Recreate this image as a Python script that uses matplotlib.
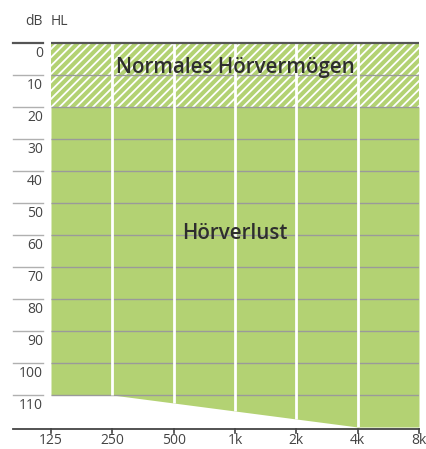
import matplotlib.pyplot as plt
import numpy as np

plt.rcParams['font.family'] = ['Open Sans', 'DejaVu Sans']
plt.rcParams['hatch.linewidth'] = 1.3

freq_labels = ['125', '250', '500', '1k', '2k', '4k', '8k']
octave = np.arange(len(freq_labels))
# lower edge of the green area (dB HL) at each frequency
loss_limit = [110, 110, 112.5, 115, 117.5, 120, 120]
db_levels = list(range(0, 120, 10))
normal_top, normal_bottom = 0, 20

green = '#b3d273'
dark = '#2e2e2e'

fig = plt.figure(figsize=(4.26, 4.49), dpi=100)
ax = fig.add_axes([51 / 426, 1 - 427 / 449, 368 / 426, 384 / 449])
ax.set_xlim(octave[0], octave[-1])
ax.set_ylim(120, 0)
ax.axis('off')

# hearing loss area and normal hearing band
ax.fill_between(octave, normal_bottom, loss_limit, color=green, lw=0, zorder=1)
ax.fill_between([octave[0], octave[-1]], normal_top, normal_bottom,
                facecolor=green, edgecolor='white', hatch='////', lw=0, zorder=1)

# horizontal grid
ax.hlines(db_levels[1:], octave[0], octave[-1], color='#9a9a9a', lw=1, zorder=2)
ax.hlines(0, octave[0], octave[-1], color='#555555', lw=1.6, zorder=3, clip_on=False)

# white frequency lines inside the green
for x, lim in zip(octave[1:-1], loss_limit[1:-1]):
    ax.vlines(x, 0, lim, color='white', lw=2, zorder=2.5)

# left tick lines and labels
ytr = ax.get_yaxis_transform()
for v in db_levels:
    c = '#555555' if v == 0 else '#b0b0b0'
    ax.plot([-0.103, -0.022], [v, v], color=c, lw=1.6 if v == 0 else 1,
            transform=ytr, clip_on=False)
    ax.text(-0.022, v + 3.2, str(v), transform=ytr, ha='right', va='center',
            fontsize=10, color='#444444')

ax.text(-0.022, -6.6, 'dB', transform=ytr, ha='right', va='center',
        fontsize=10, color='#444444')
ax.text(0.0, -6.6, 'HL', transform=ytr, ha='left', va='center',
        fontsize=10, color='#444444')

# bottom axis
ax.plot([-0.103, 1.0], [120.5, 120.5], color='#444444', lw=1.3,
        transform=ytr, clip_on=False)
for x, lab in zip(octave, freq_labels):
    ax.plot([x, x], [120.5, 122], color='#444444', lw=1.2, clip_on=False)
    ax.text(x, 124.3, lab, ha='center', va='center', fontsize=10, color='#444444')

ax.text(3, 7.8, 'Normales Hörvermögen', ha='center', va='center',
        fontsize=14.8, fontweight='semibold', color=dark, zorder=5)
ax.text(3, 59.4, 'Hörverlust', ha='center', va='center',
        fontsize=14.8, fontweight='semibold', color=dark, zorder=5)

fig.savefig('out.png', dpi=100)
